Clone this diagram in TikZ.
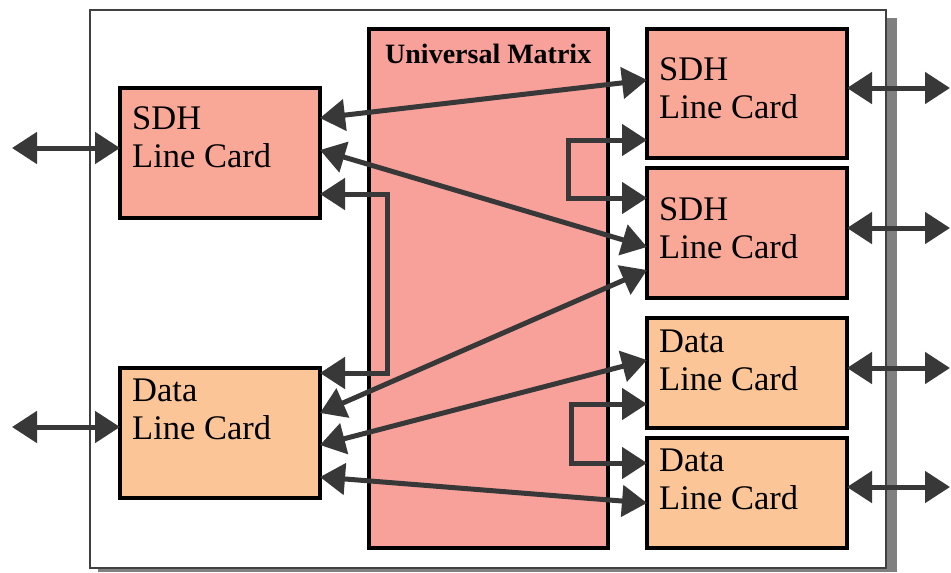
\documentclass[tikz,border=0pt]{standalone}
\usepackage{fontspec}
\setmainfont{Liberation Serif}
\usetikzlibrary{arrows.meta,calc}
\definecolor{sdhfill}{RGB}{249,168,151}
\definecolor{matfill}{RGB}{247,161,154}
\definecolor{datafill}{RGB}{251,197,152}
\definecolor{arrcol}{RGB}{56,56,56}
\definecolor{shadowcol}{RGB}{128,128,128}
\tikzset{
  card/.style={draw=black, line width=3.5pt, anchor=north west, minimum width=200pt, inner sep=0pt, outer sep=0pt},
  sdhcard/.style={card, fill=sdhfill},
  datacard/.style={card, fill=datafill},
  cardtext/.style={anchor=base west, inner sep=0pt, font=\fontsize{34.5}{38}\selectfont},
  arr/.style={draw=arrcol, line width=5pt, {Triangle[length=25pt,width=31pt]}-{Triangle[length=25pt,width=31pt]}},
}
\begin{document}
\begin{tikzpicture}[x=1pt,y=-1pt]
\useasboundingbox (0,0) rectangle (951,573);
% shadow and outer frame
\fill[shadowcol] (98,18) rectangle (897,572);
\node[draw=black!75, line width=2pt, fill=white, anchor=north west, minimum width=796pt, minimum height=558pt, inner sep=0pt, outer sep=0pt] (frame) at (90,10) {};
% matrix
\node[draw=black, line width=3.5pt, fill=matfill, anchor=north west, minimum width=239pt, minimum height=519pt, inner sep=0pt, outer sep=0pt] (mat) at (369,29) {};
\node[anchor=base west, inner sep=0pt, font=\fontsize{28}{30}\selectfont\bfseries] (matlbl) at (385,63) {Universal Matrix};
% cards
\node[sdhcard, minimum height=130pt] (lsdh) at (120,88) {};
\node[datacard, minimum height=130pt] (ldata) at (120,368) {};
\node[sdhcard, minimum height=129pt] (rsdh1) at (647,29) {};
\node[sdhcard, minimum height=130pt] (rsdh2) at (647,168) {};
\node[datacard, minimum height=110pt] (rdata1) at (647,318) {};
\node[datacard, minimum height=110pt] (rdata2) at (647,438) {};
% texts
\node[cardtext] (t1a) at (132,129) {SDH};
\node[cardtext] (t1b) at (132,167) {Line Card};
\node[cardtext] (t2a) at (132,401) {Data};
\node[cardtext] (t2b) at (132,439) {Line Card};
\node[cardtext] (t3a) at (659,80) {SDH};
\node[cardtext] (t3b) at (659,118) {Line Card};
\node[cardtext] (t4a) at (659,220) {SDH};
\node[cardtext] (t4b) at (659,258) {Line Card};
\node[cardtext] (t5a) at (659,352) {Data};
\node[cardtext] (t5b) at (659,390) {Line Card};
\node[cardtext] (t6a) at (659,471) {Data};
\node[cardtext] (t6b) at (659,509) {Line Card};
% external coordinates
\coordinate (e1) at (12,148);
\coordinate (e2) at (12,427);
\coordinate (e3) at (950,88);
\coordinate (e4) at (950,228);
\coordinate (e5) at (950,368);
\coordinate (e6) at (950,487);
\draw[arr] (e1) -- (lsdh.west |- e1);
\draw[arr] (e2) -- (ldata.west |- e2);
\draw[arr] (rsdh1.east |- e3) -- (e3);
\draw[arr] (rsdh2.east |- e4) -- (e4);
\draw[arr] (rdata1.east |- e5) -- (e5);
\draw[arr] (rdata2.east |- e6) -- (e6);
% internal connections
\draw[arr] ($(lsdh.north east)+(0,30)$) -- ($(rsdh1.north west)+(0,51)$);
\draw[arr] ($(lsdh.north east)+(0,62)$) -- ($(rsdh2.north west)+(0,79)$);
\draw[arr] ($(lsdh.north east)+(0,106)$) -| (387,280) |- ($(ldata.north east)+(0,5)$);
\draw[arr] ($(ldata.north east)+(0,45)$) -- ($(rsdh2.north west)+(0,102)$);
\draw[arr] ($(ldata.north east)+(0,77)$) -- ($(rdata1.north west)+(0,42)$);
\draw[arr] ($(ldata.north east)+(0,109)$) -- ($(rdata2.north west)+(0,65)$);
\draw[arr] ($(rsdh1.north west)+(0,111)$) -| (568,170) |- ($(rsdh2.north west)+(0,30)$);
\draw[arr] ($(rdata1.north west)+(0,86)$) -| (571,430) |- ($(rdata2.north west)+(0,25)$);
\end{tikzpicture}
\end{document}
